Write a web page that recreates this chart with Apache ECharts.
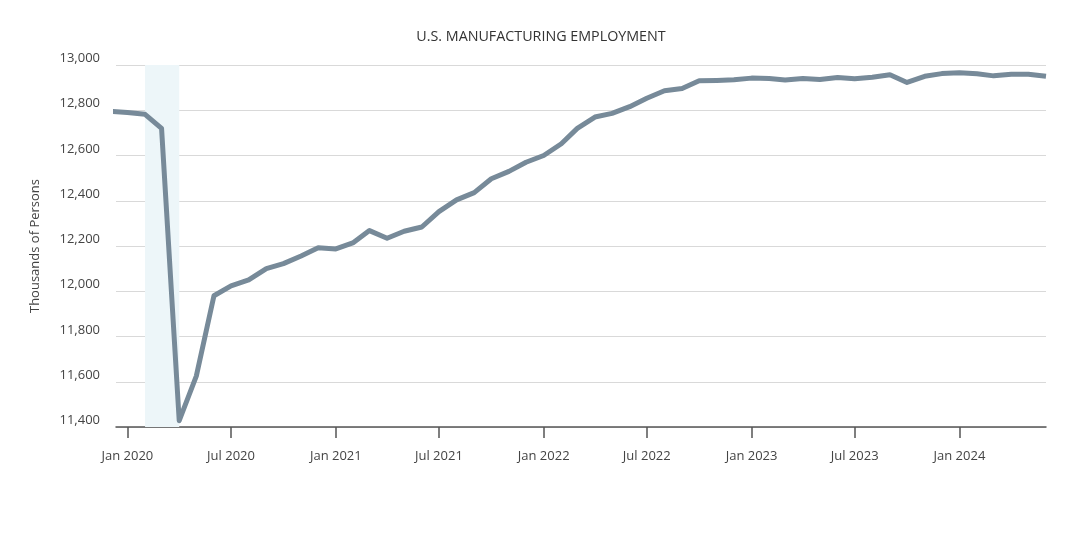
<!DOCTYPE html>
<html>
<head>
<meta charset="utf-8">
<script src="https://cdn.jsdelivr.net/npm/echarts@6/dist/echarts.min.js"></script>
<style>
html,body{margin:0;padding:0;background:#fff;}
#chart{width:1082px;height:538px;}
</style>
</head>
<body>
<div id="chart"></div>
<script>
const titleText = 'U.S. MANUFACTURING EMPLOYMENT';
const yAxisName = 'Thousands of Persons';
const months = [
 '2019-12-01','2020-01-01','2020-02-01','2020-03-01','2020-04-01','2020-05-01','2020-06-01','2020-07-01','2020-08-01','2020-09-01','2020-10-01','2020-11-01','2020-12-01',
 '2021-01-01','2021-02-01','2021-03-01','2021-04-01','2021-05-01','2021-06-01','2021-07-01','2021-08-01','2021-09-01','2021-10-01','2021-11-01','2021-12-01',
 '2022-01-01','2022-02-01','2022-03-01','2022-04-01','2022-05-01','2022-06-01','2022-07-01','2022-08-01','2022-09-01','2022-10-01','2022-11-01','2022-12-01',
 '2023-01-01','2023-02-01','2023-03-01','2023-04-01','2023-05-01','2023-06-01','2023-07-01','2023-08-01','2023-09-01','2023-10-01','2023-11-01','2023-12-01',
 '2024-01-01','2024-02-01','2024-03-01','2024-04-01','2024-05-01','2024-06-01'
];
const employment = [
 12795,12790,12782,12720,11428,11625,11980,12024,12050,12100,12122,12156,12192,
 12187,12215,12268,12234,12265,12284,12352,12404,12436,12497,12530,12570,
 12600,12652,12720,12770,12786,12816,12853,12886,12896,12930,12932,12935,
 12942,12940,12934,12940,12936,12945,12939,12946,12957,12923,12950,12962,
 12966,12961,12952,12959,12959,12950
];
const recession = ['2020-02-01','2020-04-01'];
const tickDates = ['2020-01-01','2020-07-01','2021-01-01','2021-07-01','2022-01-01','2022-07-01','2023-01-01','2023-07-01','2024-01-01'];
const monthNames = ['Jan','Feb','Mar','Apr','May','Jun','Jul','Aug','Sep','Oct','Nov','Dec'];
const yMin = 11400, yMax = 13000, yStep = 200;
const xMin = '2019-12-12', xMax = '2024-06-01';

function toTs(s){ const p = s.split('-').map(Number); return Date.UTC(p[0], p[1]-1, p[2]); }
const tickTs = tickDates.map(toTs);
const seriesData = months.map((m,i)=>[toTs(m), employment[i]]);

const chart = echarts.init(document.getElementById('chart'));
const font = "'Open Sans', 'Noto Sans', sans-serif";
chart.setOption({
  animation:false,
  backgroundColor:'#ffffff',
  title:{
    text:titleText, left:'center', top:25,
    textStyle:{fontFamily:font, fontSize:14.3, fontWeight:'normal', color:'#333'}
  },
  grid:{left:116, right:36, top:65, bottom:111, containLabel:false},
  xAxis:{
    type:'value', min:toTs(xMin), max:toTs(xMax), scale:true,
    axisLine:{show:true, lineStyle:{color:'#555', width:1.5}},
    axisTick:{show:true, length:11, lineStyle:{color:'#555', width:1.5}, customValues:tickTs},
    axisLabel:{
      customValues:tickTs, margin:23, color:'#444', fontFamily:font, fontSize:13,
      formatter:function(v){ const d=new Date(v); return monthNames[d.getUTCMonth()]+' '+d.getUTCFullYear(); }
    },
    splitLine:{show:false}
  },
  yAxis:{
    type:'value', min:yMin, max:yMax, interval:yStep,
    name:yAxisName, nameLocation:'middle', nameGap:74, nameRotate:90,
    nameTextStyle:{fontFamily:font, fontSize:13, color:'#444'},
    axisLine:{show:false}, axisTick:{show:false},
    axisLabel:{margin:16, color:'#444', fontFamily:font, fontSize:13, verticalAlign:'bottom',
      formatter:function(v){ return v.toLocaleString('en-US'); }},
    splitLine:{show:true, lineStyle:{color:'#d9d9d9', width:1}}
  },
  series:[{
    type:'line', data:seriesData, showSymbol:false, symbol:'none', clip:true,
    lineStyle:{color:'#778a99', width:5, join:'round'},
    markArea:{
      silent:true,
      itemStyle:{color:'#edf6f9'},
      data:[[{xAxis:toTs(recession[0])},{xAxis:toTs(recession[1])}]]
    },
    z:3
  }]
});
</script>
</body>
</html>
